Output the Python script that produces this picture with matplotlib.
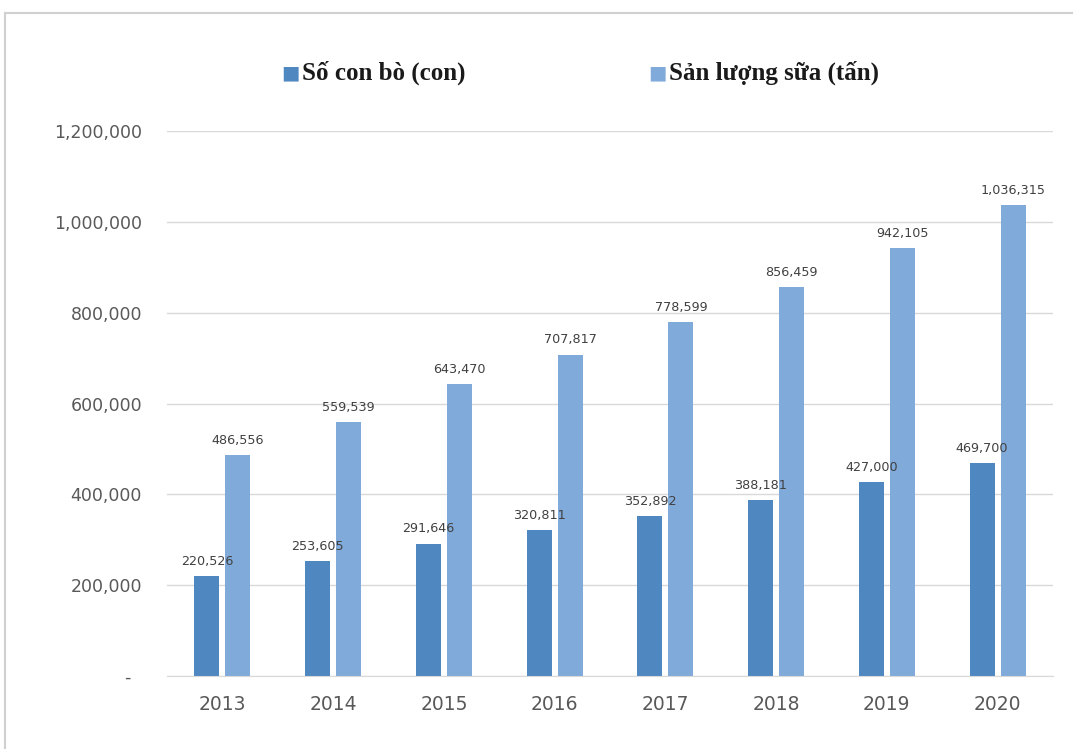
import matplotlib.pyplot as plt
import numpy as np
from matplotlib.ticker import FuncFormatter

years = ['2013', '2014', '2015', '2016', '2017', '2018', '2019', '2020']
so_con_bo = [220526, 253605, 291646, 320811, 352892, 388181, 427000, 469700]
san_luong_sua = [486556, 559539, 643470, 707817, 778599, 856459, 942105, 1036315]

dark = '#4f87c0'
light = '#80aad9'

fig = plt.figure(figsize=(10.73, 7.49), dpi=100)
ax = fig.add_axes([167 / 1073, 1 - 676 / 749, 886 / 1073, 545 / 749])

x = np.arange(len(years))
w = 0.225
gap = 0.055
ax.bar(x - w / 2 - gap / 2, so_con_bo, w, color=dark, label='Số con bò (con)')
ax.bar(x + w / 2 + gap / 2, san_luong_sua, w, color=light, label='Sản lượng sữa (tấn)')

for i in range(len(years)):
    ax.text(x[i] - w / 2 - gap / 2, so_con_bo[i] + 18000, f'{so_con_bo[i]:,}',
            ha='center', va='bottom', fontsize=9.2, color='#404040')
    ax.text(x[i] + w / 2 + gap / 2, san_luong_sua[i] + 18000, f'{san_luong_sua[i]:,}',
            ha='center', va='bottom', fontsize=9.2, color='#404040')

ax.set_xlim(-0.5, 7.5)
ax.set_ylim(0, 1200000)
ax.set_yticks(np.arange(0, 1200001, 200000))
ax.yaxis.set_major_formatter(FuncFormatter(lambda v, p: '-  ' if v == 0 else f'{int(v):,}'))
ax.set_xticks(x)
ax.set_xticklabels(years)
ax.tick_params(axis='y', length=0, pad=18, labelsize=12.5, labelcolor='#595959')
ax.tick_params(axis='x', length=0, pad=14, labelsize=13.5, labelcolor='#595959')
ax.grid(axis='y', color='#d9d9d9', linewidth=1)
ax.set_axisbelow(True)
for s in ['top', 'right', 'left']:
    ax.spines[s].set_visible(False)
ax.spines['bottom'].set_color('#d9d9d9')

# legend drawn at top in serif bold
ly = 1 - 73 / 749
fig.text(281 / 1073, ly, '■', color=dark, fontsize=14, va='center', ha='left',
         family='DejaVu Sans')
fig.text(302 / 1073, ly, 'Số con bò (con)', fontsize=18, fontweight='bold',
         family='Liberation Serif', va='center', ha='left', color='#1a1a1a')
fig.text(648 / 1073, ly, '■', color=light, fontsize=14, va='center', ha='left',
         family='DejaVu Sans')
fig.text(669 / 1073, ly, 'Sản lượng sữa (tấn)', fontsize=18, fontweight='bold',
         family='Liberation Serif', va='center', ha='left', color='#1a1a1a')

# faint frame from the screenshot
fig.add_artist(plt.Line2D([5 / 1073, 1], [1 - 13 / 749, 1 - 13 / 749], color='#d0d0d0', lw=1.5))
fig.add_artist(plt.Line2D([5 / 1073, 5 / 1073], [0, 1 - 13 / 749], color='#d0d0d0', lw=1.5))

fig.savefig('out.png', dpi=100)
